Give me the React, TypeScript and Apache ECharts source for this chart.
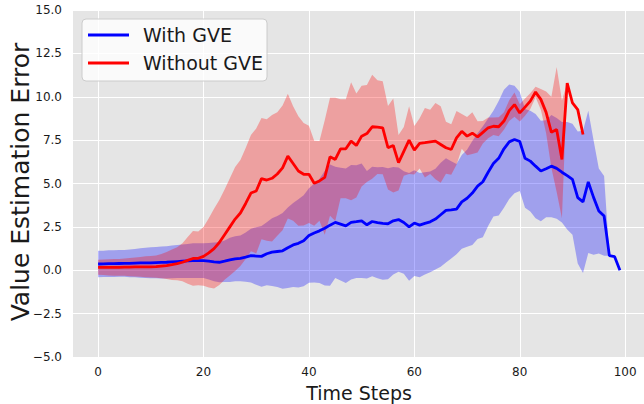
import React, { useEffect, useRef } from "react";
import * as echarts from "echarts";

// Time steps (x positions 0..99)
const steps: number[] = Array.from({ length: 100 }, (_, i) => i);

const seriesNames = ["With GVE", "Without GVE"];
const xTickLabels = ["0", "20", "40", "60", "80", "100"];

// With GVE: mean and standard deviation per step
const blueMean: number[] = [
  0.36, 0.37, 0.38, 0.38, 0.39, 0.40, 0.40, 0.41, 0.42, 0.42,
  0.43, 0.44, 0.45, 0.46, 0.48, 0.50, 0.52, 0.54, 0.55, 0.55,
  0.55, 0.52, 0.48, 0.46, 0.52, 0.60, 0.66, 0.69, 0.76, 0.84,
  0.82, 0.80, 0.95, 1.04, 1.08, 1.12, 1.30, 1.46, 1.55, 1.70,
  2.00, 2.15, 2.27, 2.42, 2.60, 2.76, 2.66, 2.56, 2.76, 2.80,
  2.85, 2.62, 2.81, 2.74, 2.70, 2.68, 2.85, 2.92, 2.75, 2.50,
  2.72, 2.60, 2.70, 2.79, 2.95, 3.20, 3.45, 3.48, 3.52, 3.94,
  4.15, 4.45, 4.85, 5.10, 5.65, 6.15, 6.45, 7.00, 7.40, 7.54,
  7.42, 6.45, 6.29, 6.00, 5.72, 5.85, 6.00, 5.87, 5.65, 5.45,
  5.24, 4.19, 3.94, 5.09, 4.20, 3.42, 3.13, 0.84, 0.78, 0.00,
];
const blueStd: number[] = [
  0.76, 0.76, 0.77, 0.77, 0.77, 0.77, 0.80, 0.82, 0.85, 0.87,
  0.89, 0.90, 0.92, 0.93, 0.94, 0.95, 0.96, 0.98, 1.00, 1.00,
  1.00, 1.05, 1.12, 1.15, 1.20, 1.28, 1.30, 1.32, 1.42, 1.55,
  1.66, 1.75, 1.82, 1.95, 2.05, 2.18, 2.32, 2.42, 2.54, 2.62,
  2.72, 2.85, 3.00, 3.30, 3.50, 3.20, 3.25, 3.30, 3.30, 3.25,
  3.30, 3.10, 3.15, 3.20, 3.25, 3.20, 3.10, 3.00, 2.95, 3.10,
  3.05, 3.00, 2.95, 2.90, 2.90, 3.00, 3.00, 2.80, 2.60, 2.70,
  2.80, 3.00, 3.05, 3.20, 3.10, 3.05, 3.30, 3.40, 3.30, 3.10,
  2.85, 2.85, 2.90, 3.00, 2.90, 2.80, 2.95, 2.90, 2.90, 3.10,
  3.20, 3.80, 4.10, 4.10, 3.30, 2.45, 2.30, 0.00, 0.00, 0.00,
];

// Without GVE: mean and standard deviation per step (0..92)
const redMean: number[] = [
  0.17, 0.17, 0.17, 0.17, 0.17, 0.18, 0.18, 0.19, 0.19, 0.20,
  0.20, 0.21, 0.24, 0.27, 0.32, 0.38, 0.46, 0.57, 0.68, 0.69,
  0.80, 1.00, 1.25, 1.60, 2.05, 2.50, 2.95, 3.30, 3.85, 4.45,
  4.57, 5.28, 5.20, 5.30, 5.55, 5.90, 6.58, 6.15, 5.72, 5.53,
  5.53, 5.01, 5.15, 5.35, 6.54, 6.39, 7.00, 7.00, 7.44, 7.19,
  7.73, 7.88, 8.27, 8.25, 8.21, 7.06, 7.19, 6.20, 6.85, 7.50,
  6.92, 7.31, 7.35, 7.40, 7.44, 7.25, 7.06, 6.96, 7.63, 8.01,
  7.73, 7.90, 7.69, 7.95, 8.21, 8.30, 8.27, 8.60, 9.20, 9.55,
  9.07, 9.40, 9.75, 10.27, 9.85, 9.10, 7.95, 8.11, 6.39, 10.79,
  9.64, 9.26, 7.82,
];
const redStd: number[] = [
  0.43, 0.45, 0.47, 0.48, 0.48, 0.50, 0.52, 0.55, 0.57, 0.60,
  0.62, 0.64, 0.70, 0.78, 0.88, 0.95, 1.10, 1.35, 1.58, 1.55,
  1.70, 2.00, 2.30, 2.45, 2.60, 2.80, 3.00, 3.05, 3.20, 3.35,
  3.60, 3.50, 3.50, 3.65, 3.56, 3.60, 3.60, 3.30, 3.15, 2.95,
  2.80, 2.45, 2.30, 3.30, 3.40, 3.55, 2.85, 2.85, 3.40, 3.00,
  2.90, 2.80, 3.00, 2.70, 2.68, 2.40, 2.71, 1.60, 1.40, 1.95,
  1.40, 1.45, 2.00, 1.85, 2.20, 2.20, 1.50, 1.45, 1.55, 1.00,
  1.10, 1.20, 0.90, 0.65, 0.60, 0.50, 0.55, 0.50, 0.60, 0.70,
  0.50, 0.50, 0.45, 0.30, 0.60, 1.20, 2.05, 3.60, 3.40, 0.00,
  0.00, 0.00, 0.00,
];

const FONT = "DejaVu Sans";
const TEXT = "#1a1a1a";

export default function App() {
  const ref = useRef<HTMLDivElement>(null);

  useEffect(() => {
    if (!ref.current) return;
    const chart = echarts.init(ref.current, null, { renderer: "svg" });

    const pairs = (arr: number[]) => arr.map((v, i) => [steps[i], v]);

    // Band polygon (mean ± std) drawn through the chart's own coordinate system
    const bandSeries = (mean: number[], std: number[], fill: string) => ({
      type: "custom",
      silent: true,
      data: [[0, mean[0]]],
      encode: { x: 0, y: 1 },
      renderItem: (_params: any, api: any) => {
        const upper = mean.map((m, i) => api.coord([steps[i], m + std[i]]));
        const lower = mean.map((m, i) => api.coord([steps[i], m - std[i]])).reverse();
        return {
          type: "polygon",
          shape: { points: upper.concat(lower) },
          style: { fill, stroke: "none" },
        };
      },
    });

    chart.setOption({
      animation: false,
      backgroundColor: "#ffffff",
      grid: {
        left: 72,
        right: -2,
        top: 10,
        bottom: 47,
        show: true,
        backgroundColor: "#e5e5e5",
        borderWidth: 0,
        containLabel: false,
        outerBoundsMode: "none",
      },
      xAxis: {
        type: "value",
        min: -4.95,
        max: 103.95,
        axisLine: { show: false },
        axisTick: { show: false },
        splitLine: { show: true, lineStyle: { color: "#ffffff", width: 1 } },
        axisLabel: {
          formatter: (v: number) => {
            const s = String(Math.round(v));
            return Math.abs(v - Math.round(v)) < 1e-6 && xTickLabels.includes(s) ? s : "";
          },
          color: TEXT,
          fontSize: 12,
          fontFamily: FONT,
          margin: 9,
        },
      },
      yAxis: {
        type: "value",
        min: -5,
        max: 15,
        interval: 2.5,
        axisLine: { show: false },
        axisTick: { show: false },
        splitLine: { show: true, lineStyle: { color: "#ffffff", width: 1 } },
        axisLabel: {
          formatter: (v: number) => (v < 0 ? "\u2212" : "") + Math.abs(v).toFixed(1),
          color: TEXT,
          fontSize: 12,
          fontFamily: FONT,
          margin: 10,
        },
      },
      legend: {
        data: seriesNames,
        orient: "vertical",
        left: 82,
        top: 19,
        icon: "rect",
        itemWidth: 41,
        itemHeight: 3,
        itemGap: 9,
        padding: [6.5, 4, 8.5, 6],
        backgroundColor: "rgba(255,255,255,0.8)",
        borderColor: "#cccccc",
        borderWidth: 1,
        borderRadius: 4,
        textStyle: {
          fontSize: 19,
          fontFamily: FONT,
          color: TEXT,
          padding: [0, 0, 0, 9],
        },
      },
      graphic: [
        {
          type: "text",
          x: 359,
          y: 393,
          style: {
            text: "Time Steps",
            fontSize: 19,
            fontFamily: FONT,
            fill: TEXT,
            align: "center",
            verticalAlign: "middle",
            textAlign: "center",
            textVerticalAlign: "middle",
          },
        },
        {
          type: "text",
          x: 20,
          y: 182,
          rotation: Math.PI / 2,
          style: {
            text: "Value Estimation Error",
            fontSize: 25,
            fontFamily: FONT,
            fill: TEXT,
            align: "center",
            verticalAlign: "middle",
            textAlign: "center",
            textVerticalAlign: "middle",
          },
        },
      ],
      series: [
        bandSeries(blueMean, blueStd, "rgba(0,0,255,0.3)"),
        bandSeries(redMean, redStd, "rgba(255,0,0,0.3)"),
        {
          name: seriesNames[0],
          type: "line",
          data: pairs(blueMean),
          symbol: "none",
          lineStyle: { color: "#0000ff", width: 2.8 },
          itemStyle: { color: "#0000ff" },
        },
        {
          name: seriesNames[1],
          type: "line",
          data: pairs(redMean),
          symbol: "none",
          lineStyle: { color: "#ff0000", width: 2.8 },
          itemStyle: { color: "#ff0000" },
        },
      ],
    });

    return () => chart.dispose();
  }, []);

  return (
    <div
      ref={ref}
      style={{ position: "fixed", left: 0, top: 0, width: 644, height: 404 }}
    />
  );
}
